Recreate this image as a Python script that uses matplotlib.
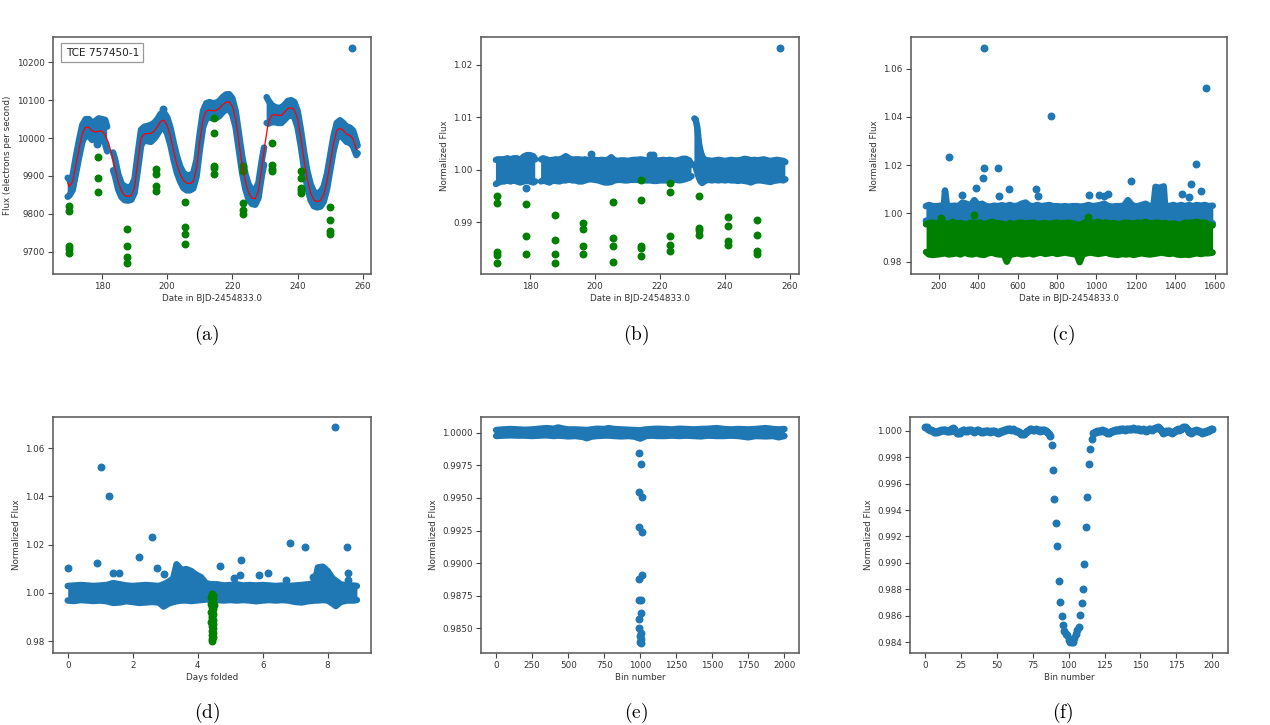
import numpy as np
import matplotlib
matplotlib.use("Agg")
import matplotlib.pyplot as plt

plt.rcParams['mathtext.fontset'] = 'cm'
plt.rcParams['font.family'] = ['DejaVu Sans']

BLUE = '#1f77b4'
GREEN = '#008000'
RED = 'red'
S = 22
nan = np.nan

# ---------------- panel (a): raw flux ----------------
a_band_t = [169.5, 170, 171, 172, 173, 174, 175, 176, 177, 178, 179, 180, 181, 181.6, 182.4,
            183.4, 184, 185, 186, 187, 188, 189, 190, 191, 192, 193, 194, 195, 196, 197, 198, 199,
            200, 201, 202, 203, 204, 205, 206, 207, 208, 209, 210, 211, 212, 213, 214, 215, 216,
            217, 218, 219, 220, 221, 222, 223, 224, 225, 226, 227, 228, 229, 229.7, 230.1,
            230.5, 231, 232, 233, 234, 235, 236, 237, 238, 239, 240, 241, 242, 243, 244, 245, 246,
            247, 248, 249, 250, 251, 252, 253, 254, 255, 256, 257, 258, 258.4]
a_band_hi = [9895, 9890, 9900, 9950, 9995, 10035, 10050, 10050, 10040, 10045, 10052, 10050, 10048, 10030, nan,
             9962, 9945, 9905, 9880, 9872, 9870, 9872, 9892, 9960, 10022, 10030, 10032, 10035, 10040, 10050, 10064, 10068,
             10055, 10028, 9988, 9952, 9925, 9908, 9902, 9902, 9907, 9942, 10012, 10072, 10092, 10095, 10092, 10093, 10098,
             10108, 10115, 10116, 10105, 10072, 10012, 9952, 9905, 9877, 9864, 9862, 9882, 9940, 9975, nan,
             10108, 10100, 10088, 10082, 10080, 10080, 10088, 10098, 10100, 10095, 10072, 10022, 9962, 9912, 9878, 9858, 9854,
             9857, 9872, 9905, 9955, 10005, 10040, 10047, 10040, 10030, 10028, 10020, 9992, 9980]
a_band_lo = [9845, 9848, 9862, 9905, 9950, 9990, 10008, 10005, 9995, 9998, 9995, 9998, 9985, 9965, nan,
             9915, 9900, 9864, 9844, 9836, 9835, 9837, 9855, 9915, 9980, 9995, 9992, 9990, 9998, 10010, 10025, 10028,
             10012, 9982, 9942, 9908, 9885, 9868, 9862, 9862, 9867, 9898, 9968, 10028, 10052, 10055, 10052, 10053, 10058,
             10068, 10075, 10075, 10062, 10028, 9968, 9908, 9865, 9837, 9826, 9824, 9842, 9900, 9930, nan,
             10040, 10038, 10042, 10042, 10040, 10040, 10048, 10058, 10060, 10055, 10028, 9978, 9918, 9868, 9836, 9820, 9817,
             9819, 9832, 9865, 9915, 9965, 10000, 10007, 10000, 9990, 9988, 9978, 9955, 9960]
a_trend_t = [169.5, 170, 171, 172, 173, 174, 175, 176, 177, 178, 179, 180, 181, 182, 183, 184, 185, 186,
             187, 188, 189, 190, 191, 192, 193, 194, 195, 196, 197, 198, 199, 200, 201, 202, 203, 204,
             205, 206, 207, 208, 209, 210, 211, 212, 213, 214, 215, 216, 217, 218, 219, 220, 221, 222,
             223, 224, 225, 226, 227, 228, 229, 230, 231, 232, 233, 234, 235, 236, 237, 238, 239, 240,
             241, 242, 243, 244, 245, 246, 247, 248, 249, 250, 251, 252, 253, 254, 255, 256, 257, 258]
a_trend = [9882, 9872, 9885, 9928, 9972, 10012, 10029, 10028, 10019, 10016, 10018, 10019, 10008, 9988, 9958, 9922, 9884, 9860,
           9848, 9846, 9848, 9870, 9938, 10000, 10011, 10012, 10012, 10018, 10030, 10044, 10047, 10034, 10005, 9965, 9930, 9905,
           9888, 9881, 9880, 9885, 9920, 9990, 10050, 10072, 10074, 10072, 10073, 10078, 10088, 10094, 10096, 10084, 10050, 9990,
           9930, 9885, 9855, 9841, 9840, 9860, 9920, 9985, 10040, 10060, 10062, 10060, 10060, 10068, 10078, 10080, 10075, 10050,
           10000, 9940, 9890, 9855, 9836, 9832, 9835, 9850, 9885, 9935, 9985, 10020, 10026, 10020, 10010, 10007, 9998, 9970]
a_extra_t = [256.7, 198.6, 178.6]
a_extra_f = [10237, 10078, 9984]
a_green_t = [170.0] * 5 + [178.8] * 3 + [187.6] * 4 + [196.6] * 4 + [205.4] * 4 + [214.3] * 5 + \
            [223.2] * 5 + [232.1] * 4 + [240.9] * 5 + [249.8] * 4
a_green_f = [9821, 9807, 9716, 9708, 9696,
             9951, 9894, 9857,
             9760, 9714, 9687, 9670,
             9918, 9905, 9874, 9859,
             9831, 9766, 9747, 9721,
             10054, 10014, 9925, 9920, 9905,
             9926, 9912, 9828, 9810, 9799,
             9986, 9929, 9918, 9912,
             9913, 9894, 9869, 9863, 9854,
             9817, 9784, 9755, 9747]

# ---------------- panel (b): detrended ----------------
b_band_t = [169.5, 170, 171, 172, 173, 174, 175, 176, 177, 178, 179, 180, 181, 181.6, 182.4,
            183.4, 184, 185, 186, 187, 188, 189, 190, 191, 192, 193, 194, 195, 196, 197, 198, 199,
            200, 201, 202, 203, 204, 205, 206, 207, 208, 209, 210, 211, 212, 213, 214, 215, 216,
            217, 218, 219, 220, 221, 222, 223, 224, 225, 226, 227, 228, 229, 229.7, 230.1,
            230.6, 231, 231.5, 232, 232.5, 233, 234, 235, 236, 237, 238, 239, 240, 241, 242, 243,
            244, 245, 246, 247, 248, 249, 250, 251, 252, 253, 254, 255, 256, 257, 258, 258.6]
b_band_hi = [1.0019, 1.0020, 1.0020, 1.0020, 1.0022, 1.0020, 1.0022, 1.0022, 1.0018, 1.0025, 1.0028, 1.0028, 1.0026, 1.0020, nan,
             1.0020, 1.0022, 1.0020, 1.0018, 1.0019, 1.0020, 1.0019, 1.0022, 1.0026, 1.0022, 1.0019, 1.0020, 1.0020, 1.0019, 1.0020, 1.0018, 1.0020,
             1.0019, 1.0018, 1.0019, 1.0018, 1.0019, 1.0024, 1.0018, 1.0017, 1.0018, 1.0018, 1.0017, 1.0018, 1.0019, 1.0019, 1.0020, 1.0019, 1.0018,
             1.0019, 1.0020, 1.0018, 1.0018, 1.0019, 1.0018, 1.0019, 1.0018, 1.0017, 1.0019, 1.0021, 1.0021, 1.0018, 1.0010, nan,
             1.0098, 1.0096, 1.0080, 1.0050, 1.0035, 1.0025, 1.0018, 1.0018, 1.0017, 1.0018, 1.0019, 1.0018, 1.0017, 1.0018, 1.0019, 1.0018,
             1.0018, 1.0019, 1.0021, 1.0020, 1.0018, 1.0019, 1.0018, 1.0019, 1.0020, 1.0018, 1.0017, 1.0018, 1.0019, 1.0018, 1.0017, 1.0015]
b_band_lo = [0.9973, 0.9975, 0.9978, 0.9978, 0.9980, 0.9978, 0.9980, 0.9978, 0.9976, 0.9978, 0.9980, 0.9978, 0.9976, 0.9978, nan,
             0.9978, 0.9980, 0.9978, 0.9976, 0.9980, 0.9979, 0.9978, 0.9980, 0.9980, 0.9982, 0.9980, 0.9980, 0.9978, 0.9978, 0.9980, 0.9982, 0.9982,
             0.9981, 0.9980, 0.9978, 0.9976, 0.9976, 0.9977, 0.9980, 0.9981, 0.9981, 0.9980, 0.9980, 0.9981, 0.9981, 0.9981, 0.9980, 0.9980, 0.9980,
             0.9980, 0.9979, 0.9979, 0.9980, 0.9980, 0.9980, 0.9980, 0.9981, 0.9981, 0.9980, 0.9981, 0.9983, 0.9985, 0.9988, nan,
             1.0010, 1.0005, 0.9995, 0.9985, 0.9978, 0.9975, 0.9980, 0.9981, 0.9980, 0.9981, 0.9980, 0.9981, 0.9980, 0.9981, 0.9980, 0.9980,
             0.9979, 0.9980, 0.9979, 0.9978, 0.9976, 0.9979, 0.9980, 0.9980, 0.9979, 0.9978, 0.9977, 0.9979, 0.9980, 0.9981, 0.9980, 0.9982]
b_extra_t = [257.0, 178.8, 198.7, 217.0, 218.0]
b_extra_f = [1.0232, 0.9966, 1.0030, 1.0028, 1.0028]
b_green_t = [169.8] * 5 + [178.8] * 3 + [187.6] * 4 + [196.4] * 4 + [205.4] * 4 + [214.3] * 5 + \
            [223.2] * 5 + [232.1] * 4 + [241.0] * 4 + [249.8] * 4
b_green_f = [0.9950, 0.9936, 0.9844, 0.9837, 0.9822,
             0.9934, 0.9874, 0.9839,
             0.9914, 0.9866, 0.9839, 0.9822,
             0.9898, 0.9887, 0.9854, 0.9839,
             0.9938, 0.9870, 0.9854, 0.9825,
             0.9981, 0.9942, 0.9854, 0.9851, 0.9836,
             0.9974, 0.9957, 0.9874, 0.9857, 0.9846,
             0.9951, 0.9890, 0.9885, 0.9876,
             0.9911, 0.9893, 0.9864, 0.9857,
             0.9905, 0.9876, 0.9845, 0.9839]

# ---------------- panel (c): all quarters ----------------
c_blue_t = [134, 150, 170, 190, 210, 226, 231, 235, 240, 260, 280, 300, 320, 340, 360, 380, 400,
            420, 440, 460, 480, 500, 520, 540, 560, 580, 600, 620, 640, 660, 680, 700, 720, 740,
            760, 780, 800, 820, 840, 860, 880, 900, 920, 940, 960, 980, 1000, 1020, 1040, 1060,
            1080, 1100, 1120, 1140, 1160, 1175, 1190, 1210, 1230, 1250, 1270, 1290, 1300, 1320,
            1342, 1348, 1370, 1390, 1410, 1430, 1450, 1470, 1490, 1510, 1530, 1550, 1570, 1591]
c_blue_hi = [1.0030, 1.0035, 1.0030, 1.0030, 1.0032, 1.0035, 1.0095, 1.0075, 1.0035, 1.0030, 1.0032, 1.0030, 1.0045, 1.0040, 1.0032, 1.0055, 1.0035,
             1.0040, 1.0030, 1.0028, 1.0032, 1.0030, 1.0034, 1.0030, 1.0035, 1.0030, 1.0032, 1.0040, 1.0045, 1.0032, 1.0030, 1.0035, 1.0030, 1.0032,
             1.0035, 1.0030, 1.0030, 1.0028, 1.0030, 1.0028, 1.0030, 1.0030, 1.0028, 1.0030, 1.0035, 1.0030, 1.0032, 1.0035, 1.0040, 1.0030,
             1.0028, 1.0030, 1.0030, 1.0032, 1.0055, 1.0040, 1.0030, 1.0030, 1.0035, 1.0040, 1.0030, 1.0032, 1.0110, 1.0106,
             1.0112, 1.0035, 1.0030, 1.0035, 1.0030, 1.0035, 1.0030, 1.0035, 1.0030, 1.0035, 1.0032, 1.0035, 1.0030, 1.0032]
c_blue_lo = [0.9970, 0.9968, 0.9970, 0.9970, 0.9968, 0.9970, 0.9972, 0.9970, 0.9968, 0.9970, 0.9970, 0.9968, 0.9970, 0.9972, 0.9970, 0.9968, 0.9970,
             0.9968, 0.9970, 0.9972, 0.9970, 0.9968, 0.9970, 0.9968, 0.9970, 0.9970, 0.9968, 0.9970, 0.9970, 0.9970, 0.9968, 0.9970, 0.9972, 0.9970,
             0.9968, 0.9970, 0.9970, 0.9972, 0.9970, 0.9970, 0.9968, 0.9970, 0.9970, 0.9968, 0.9970, 0.9970, 0.9968, 0.9970, 0.9970, 0.9968,
             0.9970, 0.9970, 0.9970, 0.9968, 0.9970, 0.9970, 0.9970, 0.9968, 0.9970, 0.9970, 0.9970, 0.9968, 0.9970, 0.9968,
             0.9970, 0.9970, 0.9968, 0.9970, 0.9970, 0.9968, 0.9970, 0.9968, 0.9970, 0.9970, 0.9968, 0.9970, 0.9970, 0.9958]
c_out_t = [429, 252, 429, 498, 422, 388, 554, 692, 702, 505, 768, 320, 1558, 1507, 1178, 1478, 1532,
           1432, 1469, 964, 1012, 1040, 1058]
c_out_f = [1.0686, 1.0232, 1.0190, 1.0190, 1.0146, 1.0107, 1.0102, 1.0102, 1.0074, 1.0071, 1.0402, 1.0077,
           1.0520, 1.0206, 1.0136, 1.0123, 1.0091, 1.0081, 1.0068, 1.0078, 1.0077, 1.0071, 1.0079]
c_green_t = [135, 150, 170, 190, 210, 230, 250, 270, 290, 310, 330, 350, 370, 390, 410, 430, 450, 470, 490,
             510, 530, 545, 560, 580, 600, 620, 640, 660, 680, 700, 720, 740, 760, 780, 800, 820, 840,
             860, 880, 900, 915, 930, 950, 970, 990, 1010, 1030, 1050, 1070, 1090, 1110, 1130, 1150,
             1170, 1190, 1210, 1230, 1250, 1270, 1290, 1310, 1330, 1350, 1370, 1390, 1410, 1430, 1450,
             1470, 1490, 1510, 1530, 1550, 1570, 1590]
c_green_hi = [0.9955, 0.9960, 0.9962, 0.9955, 0.9968, 0.9960, 0.9955, 0.9965, 0.9958, 0.9960, 0.9955, 0.9958, 0.9962, 0.9960, 0.9962, 0.9955, 0.9960, 0.9965, 0.9960,
              0.9958, 0.9955, 0.9950, 0.9960, 0.9955, 0.9960, 0.9962, 0.9958, 0.9960, 0.9962, 0.9955, 0.9958, 0.9960, 0.9955, 0.9960, 0.9962, 0.9958, 0.9960,
              0.9962, 0.9958, 0.9955, 0.9950, 0.9958, 0.9965, 0.9960, 0.9962, 0.9965, 0.9960, 0.9962, 0.9958, 0.9960, 0.9955, 0.9958, 0.9962,
              0.9960, 0.9958, 0.9962, 0.9960, 0.9965, 0.9958, 0.9960, 0.9962, 0.9958, 0.9960, 0.9955, 0.9958, 0.9955, 0.9952, 0.9962,
              0.9960, 0.9962, 0.9965, 0.9960, 0.9962, 0.9955, 0.9950]
c_green_lo = [0.9840, 0.9830, 0.9828, 0.9830, 0.9832, 0.9835, 0.9830, 0.9832, 0.9835, 0.9830, 0.9838, 0.9832, 0.9830, 0.9835, 0.9830, 0.9828, 0.9835, 0.9838, 0.9832,
              0.9830, 0.9830, 0.9800, 0.9828, 0.9832, 0.9835, 0.9830, 0.9832, 0.9835, 0.9830, 0.9835, 0.9838, 0.9832, 0.9835, 0.9838, 0.9832, 0.9835, 0.9838,
              0.9835, 0.9832, 0.9830, 0.9798, 0.9830, 0.9835, 0.9838, 0.9835, 0.9832, 0.9835, 0.9838, 0.9832, 0.9830, 0.9828, 0.9832, 0.9830,
              0.9832, 0.9828, 0.9832, 0.9835, 0.9832, 0.9830, 0.9832, 0.9835, 0.9838, 0.9835, 0.9832, 0.9835, 0.9830, 0.9828, 0.9830,
              0.9828, 0.9832, 0.9835, 0.9832, 0.9835, 0.9835, 0.9838]
c_green_extra_t = [376, 210, 955]
c_green_extra_f = [0.9994, 0.9980, 0.9985]

# ---------------- panel (d): folded ----------------
d_x = [0.00, 0.20, 0.40, 0.60, 0.80, 1.00, 1.20, 1.40, 1.60, 1.80, 2.00, 2.20, 2.40, 2.60, 2.80,
       2.95, 3.10, 3.25, 3.35, 3.50, 3.65, 3.80, 3.95, 4.10, 4.25, 4.40,
       4.60, 4.80, 5.00, 5.20, 5.40, 5.60, 5.80, 6.00, 6.20, 6.40, 6.60, 6.80, 7.00, 7.20, 7.40, 7.60,
       7.70, 7.85, 8.00, 8.15, 8.25, 8.40, 8.60, 8.80, 8.90]
d_hi = [1.0028, 1.0030, 1.0032, 1.0030, 1.0028, 1.0030, 1.0032, 1.0040, 1.0035, 1.0030, 1.0028, 1.0030, 1.0032, 1.0030, 1.0028,
        1.0035, 1.0045, 1.0060, 1.0118, 1.0095, 1.0098, 1.0090, 1.0075, 1.0065, 1.0040, 1.0035,
        1.0035, 1.0030, 1.0032, 1.0035, 1.0030, 1.0032, 1.0030, 1.0032, 1.0030, 1.0028, 1.0030, 1.0028, 1.0030, 1.0032, 1.0035, 1.0040,
        1.0105, 1.0108, 1.0090, 1.0060, 1.0050, 1.0035, 1.0030, 1.0030, 1.0028]
d_lo = [0.9968, 0.9966, 0.9970, 0.9968, 0.9966, 0.9968, 0.9965, 0.9958, 0.9960, 0.9965, 0.9962, 0.9958, 0.9960, 0.9962, 0.9960,
        0.9943, 0.9955, 0.9962, 0.9965, 0.9968, 0.9968, 0.9966, 0.9968, 0.9970, 0.9972, 0.9972,
        0.9970, 0.9968, 0.9970, 0.9968, 0.9970, 0.9968, 0.9965, 0.9968, 0.9970, 0.9968, 0.9970, 0.9968, 0.9962, 0.9960, 0.9965, 0.9968,
        0.9968, 0.9970, 0.9968, 0.9955, 0.9945, 0.9962, 0.9968, 0.9968, 0.9970]
d_out_x = [8.23, 1.03, 1.28, 2.58, 6.84, 7.29, 8.59, 2.18, 0.90, 5.32, 0.00, 2.75, 4.70, 1.39, 1.59,
           2.95, 5.29, 5.90, 6.16, 7.55, 8.62, 8.62, 6.72, 5.13]
d_out_f = [1.0687, 1.0520, 1.0402, 1.0232, 1.0206, 1.0191, 1.0191, 1.0147, 1.0125, 1.0136, 1.0104, 1.0104,
           1.0111, 1.0083, 1.0083, 1.0076, 1.0074, 1.0073, 1.0080, 1.0067, 1.0080, 1.0052, 1.0053, 1.0060]
d_green_x = [4.44, 4.47, 4.42, 4.48, 4.43, 4.46, 4.42, 4.49, 4.44, 4.47, 4.42, 4.48, 4.45, 4.43, 4.47,
             4.42, 4.48, 4.44, 4.46, 4.43, 4.47, 4.44, 4.46, 4.45, 4.45]
d_green_f = [0.9996, 0.9991, 0.9984, 0.9978, 0.9971, 0.9963, 0.9955, 0.9948, 0.9940, 0.9931, 0.9922, 0.9914,
             0.9905, 0.9896, 0.9888, 0.9879, 0.9870, 0.9861, 0.9852, 0.9843, 0.9834, 0.9825, 0.9816, 0.9808, 0.9801]

# ---------------- panel (e): global view ----------------
e_bins = [0, 50, 100, 150, 200, 250, 300, 350, 400, 430, 470, 500, 550, 600, 630, 660, 700, 750, 780, 820,
          870, 920, 960, 1000, 1040, 1080, 1120, 1170, 1220, 1270, 1320, 1370, 1420, 1470, 1530, 1580,
          1630, 1680, 1750, 1800, 1870, 1920, 1960, 2000]
e_hi = [1.00020, 1.00025, 1.00028, 1.00025, 1.00022, 1.00025, 1.00030, 1.00035, 1.00030, 1.00040, 1.00030, 1.00025,
        1.00025, 1.00022, 1.00020, 1.00025, 1.00030, 1.00028, 1.00035, 1.00028, 1.00025, 1.00022, 1.00020, 1.00018,
        1.00025, 1.00028, 1.00030, 1.00028, 1.00025, 1.00030, 1.00028, 1.00025, 1.00028, 1.00030, 1.00035, 1.00028,
        1.00025, 1.00028, 1.00025, 1.00028, 1.00035, 1.00028, 1.00025, 1.00028]
e_lo = [0.99975, 0.99978, 0.99980, 0.99978, 0.99978, 0.99975, 0.99978, 0.99980, 0.99975, 0.99978, 0.99975, 0.99972,
        0.99975, 0.99968, 0.99958, 0.99970, 0.99975, 0.99978, 0.99978, 0.99975, 0.99972, 0.99975, 0.99970, 0.99955,
        0.99975, 0.99978, 0.99975, 0.99975, 0.99978, 0.99975, 0.99978, 0.99975, 0.99972, 0.99978, 0.99975, 0.99975,
        0.99978, 0.99975, 0.99965, 0.99975, 0.99972, 0.99975, 0.99965, 0.99975]
e_dip_bin = [990, 1008, 990, 1010, 990, 1010, 990, 1010, 994, 1006, 1002, 994, 990, 1008, 1000, 1004, 998, 1003]
e_dip_f = [0.99847, 0.99760, 0.99543, 0.99507, 0.99274, 0.99238, 0.98876, 0.98909, 0.98717, 0.98717,
           0.98615, 0.98569, 0.98500, 0.98462, 0.98440, 0.98420, 0.98398, 0.98385]

# ---------------- panel (f): local view ----------------
f_flux = [1.00030, 1.00025, 1.00015, 1.00008, 1.00002, 0.99995, 0.99992, 0.99990, 0.99992, 0.99995,
          1.00000, 1.00005, 1.00008, 1.00005, 1.00002, 0.99998, 1.00000, 0.99995, 1.00010, 1.00020,
          1.00010, 0.99995, 0.99985, 0.99980, 0.99985, 0.99995, 1.00002, 1.00005, 1.00000, 0.99995,
          1.00005, 1.00008, 1.00002, 0.99995, 0.99990, 1.00000, 1.00008, 1.00005, 0.99998, 0.99990,
          0.99988, 0.99995, 1.00000, 0.99998, 0.99995, 0.99990, 0.99995, 1.00000, 0.99995, 0.99990,
          0.99988, 0.99985, 0.99990, 0.99995, 1.00000, 1.00005, 1.00008, 1.00010, 1.00012, 1.00010,
          1.00008, 1.00010, 1.00005, 0.99998, 0.99995, 0.99990, 0.99985, 0.99978, 0.99972, 0.99978,
          0.99988, 1.00000, 1.00008, 1.00012, 1.00010, 1.00005, 1.00008, 1.00010, 1.00008, 1.00005,
          1.00000, 1.00005, 1.00008, 1.00005, 0.99998, 0.99990, 0.99975, 0.99958, 0.99894, 0.99705,
          0.99486, 0.99300, 0.99128, 0.98866, 0.98702, 0.98601, 0.98528, 0.98483, 0.98460, 0.98453,
          0.98415, 0.98405, 0.98400, 0.98405, 0.98430, 0.98460, 0.98490, 0.98518, 0.98607, 0.98697,
          0.98805, 0.98992, 0.99272, 0.99501, 0.99751, 0.99862, 0.99940, 0.99983, 0.99990, 0.99992,
          0.99995, 0.99998, 1.00000, 1.00002, 1.00000, 0.99995, 0.99990, 0.99985, 0.99982, 0.99988,
          0.99995, 1.00000, 1.00005, 1.00008, 1.00005, 1.00008, 1.00010, 1.00012, 1.00010, 1.00008,
          1.00012, 1.00015, 1.00012, 1.00010, 1.00015, 1.00018, 1.00015, 1.00012, 1.00015, 1.00010,
          1.00005, 1.00008, 1.00010, 1.00005, 1.00000, 1.00005, 1.00010, 1.00012, 1.00008, 1.00015,
          1.00020, 1.00022, 1.00025, 1.00022, 1.00010, 0.99995, 0.99985, 0.99990, 0.99995, 1.00000,
          0.99995, 0.99990, 0.99985, 0.99990, 1.00000, 1.00005, 1.00010, 1.00008, 1.00010, 1.00020,
          1.00028, 1.00030, 1.00020, 1.00005, 0.99990, 0.99985, 0.99988, 0.99995, 1.00000, 1.00002,
          1.00000, 0.99995, 0.99990, 0.99985, 0.99988, 0.99990, 0.99995, 1.00000, 1.00005, 1.00010,
          1.00012]

# ---------------- ticks ----------------
date_ticks = [180, 200, 220, 240, 260]
a_yticks = [9700, 9800, 9900, 10000, 10100, 10200]
b_yticks = [0.99, 1.00, 1.01, 1.02]
c_xticks = [200, 400, 600, 800, 1000, 1200, 1400, 1600]
cd_yticks = [0.98, 1.00, 1.02, 1.04, 1.06]
d_xticks = [0, 2, 4, 6, 8]
e_xticks = [0, 250, 500, 750, 1000, 1250, 1500, 1750, 2000]
e_yticks = [0.9850, 0.9875, 0.9900, 0.9925, 0.9950, 0.9975, 1.0000]
f_xticks = [0, 25, 50, 75, 100, 125, 150, 175, 200]
f_yticks = [0.984, 0.986, 0.988, 0.990, 0.992, 0.994, 0.996, 0.998, 1.000]

W, H = 1270, 725
fig = plt.figure(figsize=(W / 100, H / 100), dpi=100)
DOT_PT = np.sqrt(S)   # marker diameter in points
FS = 6.3


def px_axes(l, t, r, b):
    return fig.add_axes([l / W, 1 - b / H, (r - l) / W, (b - t) / H])


def band(ax, t, hi, lo, color, z):
    ax.fill_between(t, lo, hi, color=color, lw=0, zorder=z)
    for edge in (hi, lo):
        ax.plot(t, edge, color=color, lw=DOT_PT, solid_capstyle='round',
                solid_joinstyle='round', zorder=z)


def style(ax, xlabel, ylabel, xlim, ylim, xticks, yticks, yfmt):
    ax.set_xlim(*xlim)
    ax.set_ylim(*ylim)
    ax.set_xticks(xticks)
    ax.set_yticks(yticks)
    ax.set_yticklabels([yfmt.format(v) for v in yticks])
    ax.set_xlabel(xlabel, fontsize=FS, color='#333333', labelpad=2)
    ax.set_ylabel(ylabel, fontsize=FS, color='#333333', labelpad=3)
    ax.tick_params(labelsize=FS, length=3.5, width=0.8, colors='#444444', labelcolor='#333333', pad=2.5)
    for sp in ax.spines.values():
        sp.set_color('#555555')
        sp.set_linewidth(1.1)


DATE_LABEL = 'Date in BJD-2454833.0'
NF = 'Normalized Flux'

# (a)
ax = px_axes(53, 37, 371, 274)
band(ax, a_band_t, a_band_hi, a_band_lo, BLUE, 2)
ax.scatter(a_extra_t, a_extra_f, s=S, color=BLUE, zorder=2)
ax.scatter(a_green_t, a_green_f, s=S, color=GREEN, zorder=3)
ax.plot(a_trend_t, a_trend, color=RED, lw=0.9, zorder=4)
ax.text(0.04, 0.955, 'TCE 757450-1', transform=ax.transAxes, fontsize=7.6, va='top', ha='left',
        color='#222222', zorder=6,
        bbox=dict(boxstyle='square,pad=0.4', fc='white', ec='#999999', lw=0.9))
style(ax, DATE_LABEL, 'Flux (electrons per second)', (165, 262.5), (9641, 10267),
      date_ticks, a_yticks, '{:d}')

# (b)
ax = px_axes(481, 37, 799, 274)
band(ax, b_band_t, b_band_hi, b_band_lo, BLUE, 2)
ax.scatter(b_extra_t, b_extra_f, s=S, color=BLUE, zorder=2)
ax.scatter(b_green_t, b_green_f, s=S, color=GREEN, zorder=3)
style(ax, DATE_LABEL, NF, (164.9, 262.8), (0.98014, 1.02534), date_ticks, b_yticks, '{:.2f}')

# (c)
ax = px_axes(910.5, 37, 1227, 274)
band(ax, c_blue_t, c_blue_hi, c_blue_lo, BLUE, 2)
ax.scatter(c_out_t, c_out_f, s=S, color=BLUE, zorder=2)
band(ax, c_green_t, c_green_hi, c_green_lo, GREEN, 3)
ax.scatter(c_green_extra_t, c_green_extra_f, s=S, color=GREEN, zorder=3)
style(ax, DATE_LABEL, NF, (56, 1663), (0.9749, 1.0731), c_xticks, cd_yticks, '{:.2f}')

# (d)
ax = px_axes(53, 416.7, 371, 652.7)
band(ax, d_x, d_hi, d_lo, BLUE, 2)
ax.scatter(d_out_x, d_out_f, s=S, color=BLUE, zorder=2)
ax.scatter(d_green_x, d_green_f, s=S, color=GREEN, zorder=3)
style(ax, 'Days folded', NF, (-0.453, 9.334), (0.97515, 1.073), d_xticks, cd_yticks, '{:.2f}')

# (e)
ax = px_axes(481, 416.7, 799.3, 652.7)
band(ax, e_bins, e_hi, e_lo, BLUE, 2)
ax.scatter(e_dip_bin, e_dip_f, s=S, color=BLUE, zorder=2)
style(ax, 'Bin number', NF, (-105, 2103), (0.98313, 1.001227), e_xticks, e_yticks, '{:.4f}')

# (f)
ax = px_axes(910.3, 416.7, 1227.7, 652.7)
ax.scatter(np.arange(len(f_flux)), f_flux, s=S, color=BLUE, zorder=2)
style(ax, 'Bin number', NF, (-10.5, 210.9), (0.98321, 1.00106), f_xticks, f_yticks, '{:.3f}')

# sub-figure letters
letters = ['(a)', '(b)', '(c)', '(d)', '(e)', '(f)']
letter_x = [207, 636, 1063, 207, 636, 1063]
letter_y = [335, 335, 335, 713, 713, 713]
for s_, x_, y_ in zip(letters, letter_x, letter_y):
    fig.text(x_ / W, 1 - y_ / H, r'$\mathrm{' + s_ + '}$', fontsize=14, ha='center', va='center')

fig.savefig('out.png', dpi=100)
